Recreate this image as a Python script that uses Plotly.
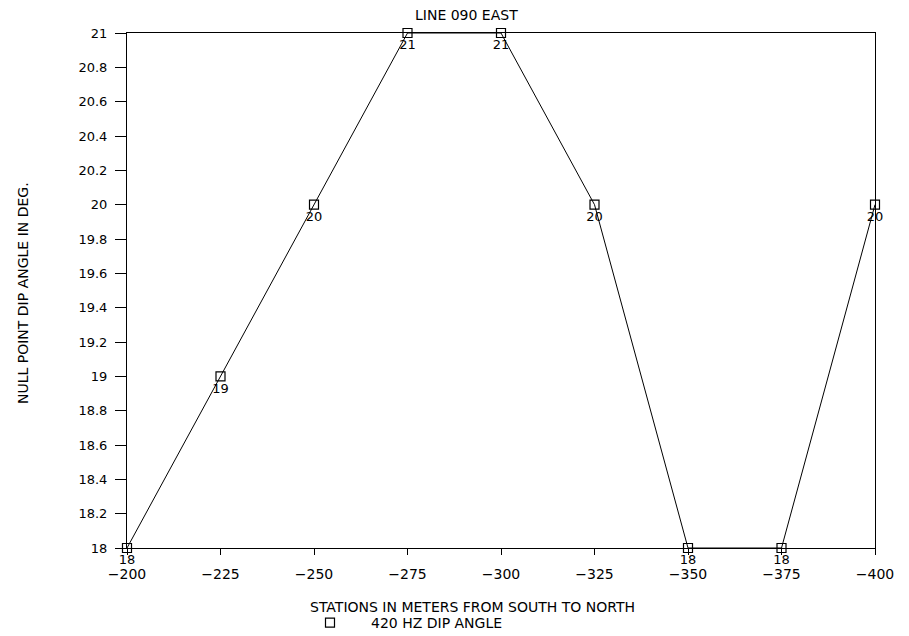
import plotly.graph_objects as go

# Station positions (m) and measured null-point dip angles (deg)
stations = [-200, -225, -250, -275, -300, -325, -350, -375, -400]
dip_angle = [18, 19, 20, 21, 21, 20, 18, 18, 20]

x_ticks = [-200, -225, -250, -275, -300, -325, -350, -375, -400]
y_ticks = [18, 18.2, 18.4, 18.6, 18.8, 19, 19.2, 19.4, 19.6, 19.8,
           20, 20.2, 20.4, 20.6, 20.8, 21]

FONT = "DejaVu Sans"
W, H = 909, 636
ML, MR, MT, MB = 127, 34, 33, 88
PW, PH = W - ML - MR, H - MT - MB


def px_x(x):
    """Pixel x -> paper coordinate."""
    return (x - ML) / PW


def px_y(y):
    """Pixel y (from top) -> paper coordinate."""
    return (H - MB - y) / PH


fig = go.Figure()
# connecting line
fig.add_trace(go.Scatter(
    x=stations, y=dip_angle, mode="lines",
    line=dict(color="black", width=1),
    showlegend=False, hoverinfo="skip", cliponaxis=False,
))
# station markers with their values
fig.add_trace(go.Scatter(
    x=stations, y=dip_angle, mode="markers+text",
    name="420 HZ DIP ANGLE",
    marker=dict(symbol="square-open", size=9, color="black",
                line=dict(width=1.2, color="black")),
    text=[str(v) for v in dip_angle],
    textposition="bottom center",
    textfont=dict(family=FONT, size=13, color="black"),
    cliponaxis=False,
))

fig.update_layout(
    width=W, height=H,
    paper_bgcolor="white", plot_bgcolor="white",
    margin=dict(l=ML, r=MR, t=MT, b=MB, autoexpand=False),
    font=dict(family=FONT, color="black"),
    showlegend=True,
    legend=dict(
        orientation="h",
        xref="container", yref="container",
        x=289 / W, xanchor="left",
        y=(H - 623) / H, yanchor="middle",
        font=dict(family=FONT, size=14, color="black"),
        bgcolor="rgba(0,0,0,0)",
        itemwidth=72,
    ),
    annotations=[
        dict(text="LINE 090 EAST", x=px_x(466), y=px_y(15),
             xref="paper", yref="paper", xanchor="center", yanchor="middle",
             showarrow=False, font=dict(family=FONT, size=14, color="black")),
        dict(text="STATIONS IN METERS FROM SOUTH TO NORTH",
             x=px_x(472), y=px_y(607), xref="paper", yref="paper",
             xanchor="center", yanchor="middle", showarrow=False,
             font=dict(family=FONT, size=14, color="black")),
        dict(text="NULL POINT DIP ANGLE IN DEG.", textangle=-90,
             x=px_x(23), y=px_y(293), xref="paper", yref="paper",
             xanchor="center", yanchor="middle", showarrow=False,
             font=dict(family=FONT, size=14, color="black")),
    ],
)

fig.update_xaxes(
    range=[-200, -400],
    tickvals=x_ticks,
    ticktext=[f"\u2212{abs(v)}" for v in x_ticks],
    ticks="outside", ticklen=6, tickcolor="black", tickwidth=1,
    ticklabelstandoff=7,
    tickfont=dict(family=FONT, size=14, color="black"),
    showline=True, linecolor="black", linewidth=1, mirror=True,
    showgrid=False, zeroline=False,
)
fig.update_yaxes(
    range=[18, 21],
    tickvals=y_ticks,
    ticktext=[f"{v:g}" for v in y_ticks],
    ticks="outside", ticklen=11, tickcolor="black", tickwidth=1,
    ticklabelstandoff=5,
    tickfont=dict(family=FONT, size=13, color="black"),
    showline=True, linecolor="black", linewidth=1, mirror=True,
    showgrid=False, zeroline=False,
)

fig.write_html("out.html")
